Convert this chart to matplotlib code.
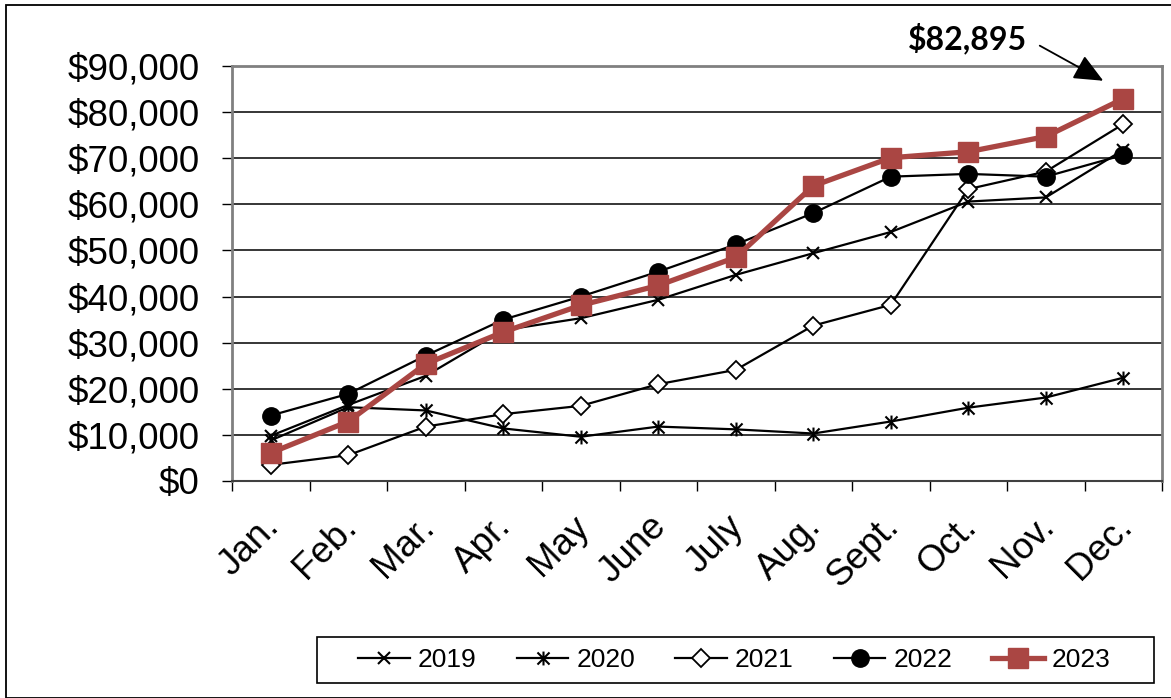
import matplotlib
matplotlib.use("Agg")
import matplotlib.pyplot as plt
from matplotlib.path import Path
from matplotlib.patches import Rectangle
from matplotlib.ticker import FuncFormatter, FixedLocator
import matplotlib.transforms as mtransforms

months = ["Jan.", "Feb.", "Mar.", "Apr.", "May", "June", "July", "Aug.", "Sept.", "Oct.", "Nov.", "Dec."]
s2019 = [9800, 16500, 22800, 32700, 35300, 39300, 44700, 49400, 54000, 60600, 61500, 71800]
s2020 = [8800, 16000, 15300, 11400, 9600, 11800, 11200, 10300, 12900, 15900, 18100, 22400]
s2021 = [3500, 5600, 11800, 14500, 16300, 21000, 24100, 33700, 38200, 63300, 67100, 77400]
s2022 = [14200, 18900, 27200, 35000, 40000, 45400, 51300, 58100, 66000, 66600, 66000, 70700]
s2023 = [6100, 12900, 25400, 32300, 38100, 42400, 48500, 64000, 70100, 71400, 74700, 82895]
series_labels = ["2019", "2020", "2021", "2022", "2023"]
annot_text = "$82,895"

plt.rcParams['font.family'] = ['Liberation Sans', 'DejaVu Sans']

W, H = 1171, 698
fig = plt.figure(figsize=(W / 100, H / 100), dpi=100)

# outer border
fig.patches.append(Rectangle((6 / W, 0), 1.2, 1 - 5 / H, transform=fig.transFigure,
                             fill=False, edgecolor='black', lw=1.3, zorder=0))
# legend frame
fig.patches.append(Rectangle((317 / W, 1 - 683 / H), (1154 - 317) / W, 46 / H, transform=fig.transFigure,
                             fill=False, edgecolor='black', lw=1.2, zorder=0))

ax = fig.add_axes([232 / W, 1 - 481 / H, 930 / W, 415 / H])
x = list(range(len(months)))

star = Path([(-1, -1), (1, 1), (-1, 1), (1, -1), (0, -1.15), (0, 1.15)],
            [Path.MOVETO, Path.LINETO, Path.MOVETO, Path.LINETO, Path.MOVETO, Path.LINETO])

lw = 1.6
ax.plot(x, s2019, color='black', lw=lw, marker='x', ms=9, mew=1.5, label=series_labels[0], zorder=3)
ax.plot(x, s2020, color='black', lw=lw, marker=star, ms=10, mew=1.5, mfc='none', label=series_labels[1], zorder=3)
ax.plot(x, s2021, color='black', lw=lw, marker='D', ms=9, mew=1.3, mfc='white', mec='black', label=series_labels[2], zorder=4)
ax.plot(x, s2022, color='black', lw=lw, marker='o', ms=12.5, label=series_labels[3], zorder=5)
ax.plot(x, s2023, color='#AA4643', lw=3.8, marker='s', ms=14, label=series_labels[4], zorder=6)

ax.set_xlim(-0.5, 11.5)
ax.set_ylim(0, 90000)
ax.set_yticks(range(0, 90001, 10000))
ax.yaxis.set_major_formatter(FuncFormatter(lambda v, p: "${:,.0f}".format(v)))
ax.tick_params(axis='y', length=7.2, width=1, direction='out', labelsize=26.5, pad=16)
ax.grid(axis='y', color='black', lw=1.1, zorder=1)

ax.set_xticks(x)
ax.set_xticklabels(months, rotation=45, ha='right', va='center', rotation_mode='anchor')
ax.tick_params(axis='x', which='major', length=0, labelsize=26.5, pad=29)
ax.xaxis.set_minor_locator(FixedLocator([i - 0.5 for i in range(13)]))
ax.tick_params(axis='x', which='minor', length=7.2, width=1, direction='out')
offset = mtransforms.ScaledTranslation(3 / 100, 0, fig.dpi_scale_trans)
for lab in ax.get_xticklabels():
    lab.set_transform(lab.get_transform() + offset)

for side in ['left', 'top', 'right']:
    ax.spines[side].set_color('#808080')
    ax.spines[side].set_linewidth(2)
ax.spines['bottom'].set_color('#404040')
ax.spines['bottom'].set_linewidth(1.5)
ax.set_axisbelow(True)

# annotation for the December 2023 value
tip = mtransforms.offset_copy(ax.transData, fig=fig, x=-20, y=18, units='dots')
ax.annotate(annot_text, xy=(11, s2023[-1]), xycoords=tip,
            xytext=(-76, 42), textcoords='offset pixels', ha='right', va='center',
            fontsize=23, fontweight='bold', family=['Lato', 'DejaVu Sans'],
            arrowprops=dict(arrowstyle='-|>,head_length=0.9,head_width=0.4', mutation_scale=20,
                            color='black', lw=1.3, shrinkA=8, shrinkB=0, relpos=(1, 0.5)),
            annotation_clip=False)

leg = ax.legend(loc='center', bbox_to_anchor=(734.5 / W, 1 - 660 / H), bbox_transform=fig.transFigure,
                ncol=5, fontsize=19, frameon=False, borderpad=0,
                handlelength=1.96, handletextpad=0.3, columnspacing=1.52)

fig.savefig("out.png", dpi=100)
